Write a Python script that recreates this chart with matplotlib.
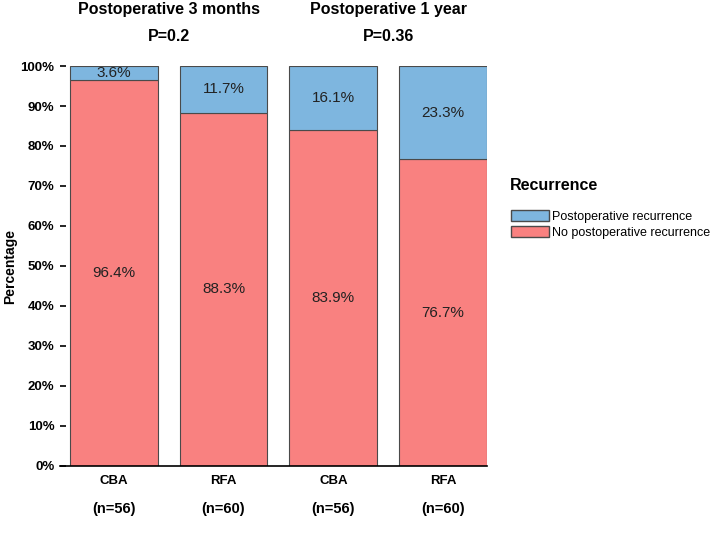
import matplotlib
matplotlib.use("Agg")
import matplotlib.pyplot as plt
import matplotlib.patches as mpatches
import numpy as np

plt.rcParams['font.family'] = ['Liberation Sans', 'DejaVu Sans']

# data
groups = ['CBA', 'RFA', 'CBA', 'RFA']
n_labels = ['(n=56)', '(n=60)', '(n=56)', '(n=60)']
no_recur = [96.4, 88.3, 83.9, 76.7]
recur = [3.6, 11.7, 16.1, 23.3]
periods = ['Postoperative 3 months', 'Postoperative 1 year']
p_values = ['P=0.2', 'P=0.36']

red = '#F98180'
blue = '#7EB6DF'
edge = '#4a4a4a'

fig = plt.figure(figsize=(7.2, 5.38), dpi=100)
ax = fig.add_axes([60 / 720, 1 - 466 / 538, 427 / 720, 400 / 538])

x = np.arange(len(groups))
nr = np.array(no_recur) / 100
r = np.array(recur) / 100
ax.bar(x, nr, width=0.8, color=red, edgecolor=edge, linewidth=0.8)
ax.bar(x, r, width=0.8, bottom=nr, color=blue, edgecolor=edge, linewidth=0.8)

for i in range(len(x)):
    ax.text(x[i], nr[i] / 2, f'{no_recur[i]}%', ha='center', va='center', fontsize=11, color='#222222')
    ax.text(x[i], nr[i] + r[i] / 2, f'{recur[i]}%', ha='center', va='center', fontsize=11, color='#222222')

ax.set_xlim(-0.49, 3.4)
ax.set_ylim(0, 1)
ax.set_yticks(np.arange(0, 1.01, 0.1))
ax.set_yticklabels([f'{int(v)}%' for v in np.arange(0, 101, 10)], fontweight='bold', fontsize=9.5)
ax.set_xticks([])
for s in ['top', 'right', 'left']:
    ax.spines[s].set_visible(False)
ax.spines['bottom'].set_linewidth(1.2)
ax.tick_params(axis='y', direction='in', length=4, width=1.2, pad=4)
ax.set_ylabel('Percentage', fontweight='bold', fontsize=10)
ax.yaxis.set_label_coords(-0.10, 0.5)

# group / n labels below axis
for i in range(len(x)):
    ax.annotate(groups[i], (x[i], 0), xytext=(0, -11), textcoords='offset points',
                ha='center', va='center', fontweight='bold', fontsize=9.5)
    ax.annotate(n_labels[i], (x[i], 0), xytext=(0, -31), textcoords='offset points',
                ha='center', va='center', fontweight='bold', fontsize=10.5)

# titles above
for k in range(2):
    cx = (x[2 * k] + x[2 * k + 1]) / 2
    ax.annotate(periods[k], (cx, 1), xytext=(0, 41), textcoords='offset points',
                ha='center', va='center', fontweight='bold', fontsize=11.5)
    ax.annotate(p_values[k], (cx, 1), xytext=(0, 21), textcoords='offset points',
                ha='center', va='center', fontweight='bold', fontsize=11.5)

fig.text(510 / 720, 1 - 186 / 538, 'Recurrence', ha='left', va='center',
         fontweight='bold', fontsize=11.5)
handles = [mpatches.Patch(facecolor=blue, edgecolor=edge, label='Postoperative recurrence'),
           mpatches.Patch(facecolor=red, edgecolor=edge, label='No postoperative recurrence')]
fig.legend(handles=handles, loc='upper left', bbox_to_anchor=(511 / 720, 1 - 210 / 538),
           frameon=False, fontsize=9, borderpad=0, borderaxespad=0,
           handlelength=3.0, handleheight=0.95, handletextpad=0.3, labelspacing=0.3)

fig.savefig('out.png', dpi=100)
